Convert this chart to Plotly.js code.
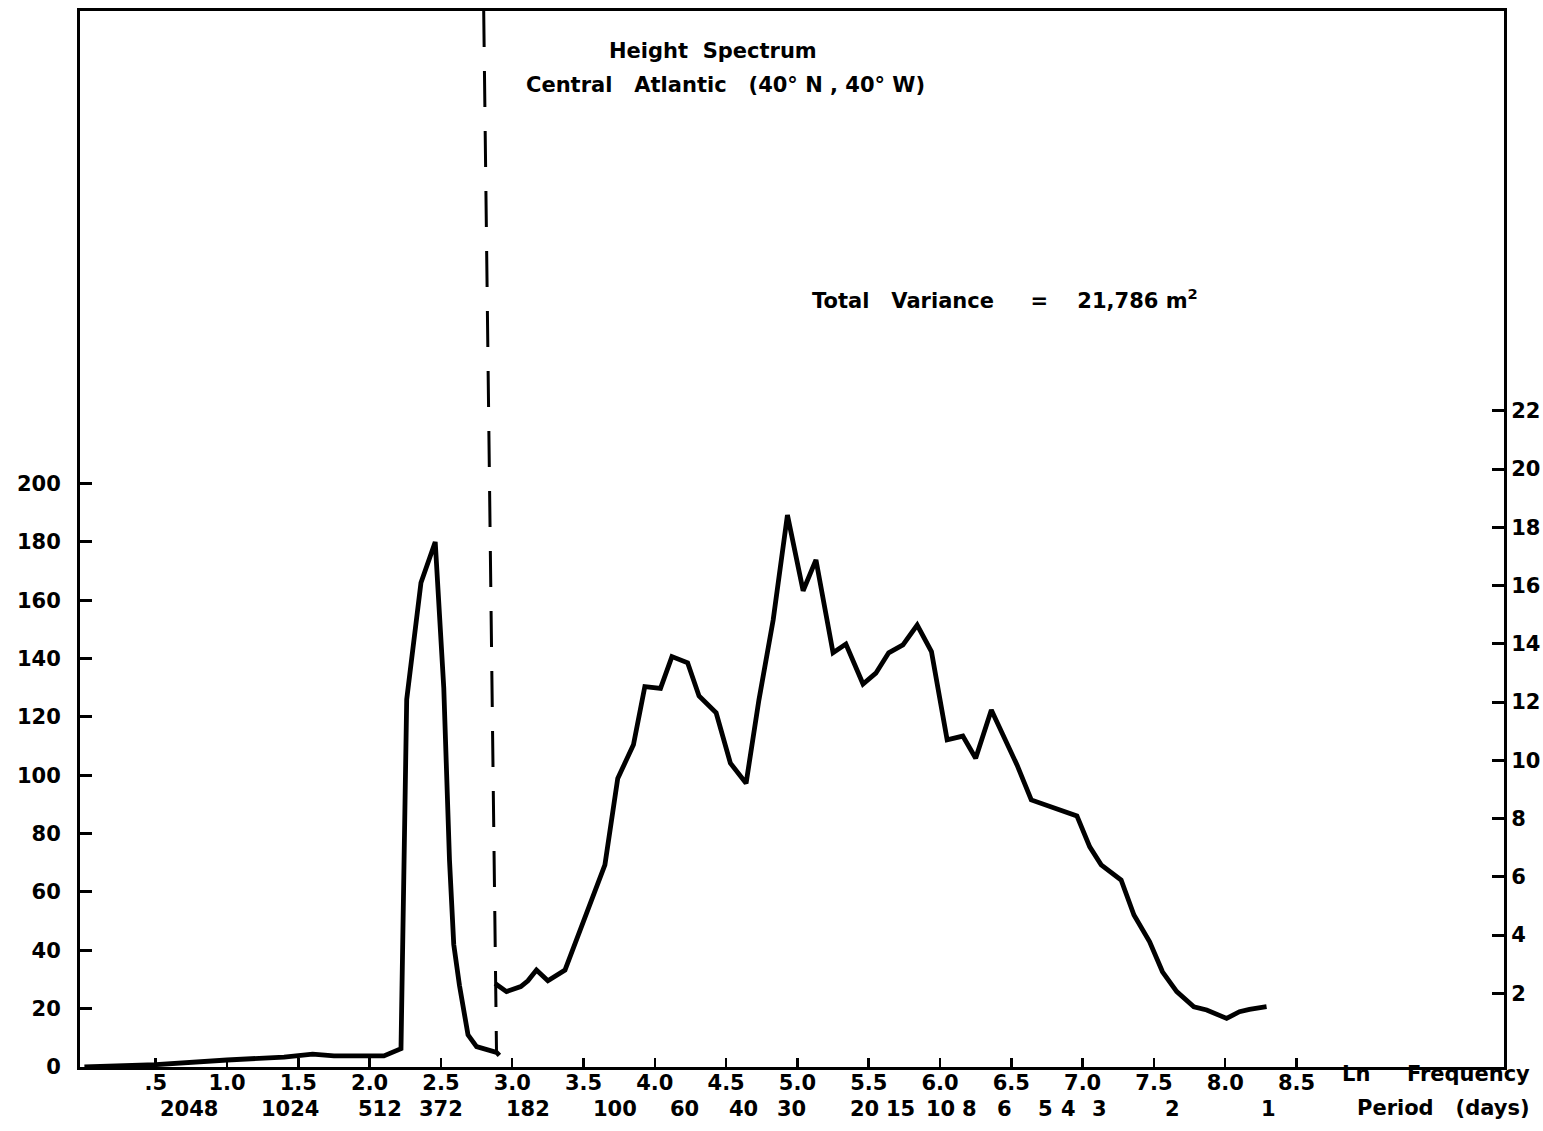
<!DOCTYPE html>
<html>
<head>
<meta charset="utf-8">
<script src="https://cdn.plot.ly/plotly-3.0.1.min.js"></script>
<style>html,body{margin:0;padding:0;background:#fff;}</style>
</head>
<body>
<div id="chart" style="width:1543px;height:1131px;"></div>
<script>
// ---- data ----
// low-frequency part, left axis (m^2 per unit ln frequency)
const lnLow  = [0.0, 0.5, 1.0, 1.4, 1.6, 1.75, 2.1, 2.22, 2.26, 2.36, 2.46, 2.49, 2.52, 2.56, 2.59, 2.63, 2.69, 2.75, 2.89, 2.91];
const varLow = [0, 0.8, 2.4, 3.4, 4.4, 3.8, 3.8, 6.3, 126, 166, 180, 154, 130, 71, 42, 28, 11, 7, 5, 4];
// high-frequency part, right axis
const lnHigh  = [2.88, 2.96, 3.06, 3.11, 3.17, 3.25, 3.37, 3.44, 3.57, 3.65, 3.74, 3.85, 3.93, 4.04, 4.12, 4.23, 4.31, 4.43, 4.53, 4.64, 4.73, 4.83, 4.93, 5.04, 5.13, 5.25, 5.34, 5.46, 5.55, 5.64, 5.74, 5.84, 5.94, 6.05, 6.16, 6.25, 6.36, 6.54, 6.64, 6.96, 7.05, 7.13, 7.27, 7.36, 7.47, 7.56, 7.66, 7.78, 7.87, 8.01, 8.10, 8.17, 8.29];
const varHigh = [2.34, 2.06, 2.23, 2.43, 2.80, 2.43, 2.80, 3.72, 5.43, 6.41, 9.38, 10.53, 12.53, 12.47, 13.56, 13.35, 12.21, 11.63, 9.90, 9.21, 12.07, 14.82, 18.42, 15.82, 16.88, 13.69, 13.99, 12.62, 12.99, 13.69, 13.96, 14.64, 13.73, 10.70, 10.83, 10.07, 11.73, 9.84, 8.64, 8.09, 7.03, 6.41, 5.89, 4.69, 3.77, 2.74, 2.06, 1.54, 1.43, 1.14, 1.37, 1.45, 1.54];

// tick labels
const lnTickVals  = [0.5, 1.0, 1.5, 2.0, 2.5, 3.0, 3.5, 4.0, 4.5, 5.0, 5.5, 6.0, 6.5, 7.0, 7.5, 8.0, 8.5];
const lnTickText  = [".5", "1.0", "1.5", "2.0", "2.5", "3.0", "3.5", "4.0", "4.5", "5.0", "5.5", "6.0", "6.5", "7.0", "7.5", "8.0", "8.5"];
const periodLabels = ["2048", "1024", "512", "372", "182", "100", "60", "40", "30", "20", "15", "10", "8", "6", "5", "4", "3", "2", "1"];
const periodLn     = [0.73, 1.44, 2.07, 2.50, 3.11, 3.72, 4.21, 4.62, 4.96, 5.47, 5.72, 6.00, 6.21, 6.45, 6.74, 6.90, 7.12, 7.63, 8.30];
const leftTicks  = [0, 20, 40, 60, 80, 100, 120, 140, 160, 180, 200];
const rightTicks = [2, 4, 6, 8, 10, 12, 14, 16, 18, 20, 22];
const cutoffLn = [2.80, 2.89]; // dashed separator (top, bottom)

// ---- layout geometry ----
const W = 1543, H = 1131;
const mL = 80, mR = 39, mT = 11, mB = 64;
const plotW = W - mL - mR, plotH = H - mT - mB;
const px2x = px => (px - mL) / plotW;
const py2y = py => (H - mB - py) / plotH;

const FONT = "DejaVu Sans";
const black = "#000";
const tf = {family: FONT, size: 21, color: black, weight: "bold"};

const traces = [
  {x: lnLow, y: varLow, xaxis: "x", yaxis: "y", mode: "lines",
   line: {color: black, width: 4.8}, hoverinfo: "skip", showlegend: false},
  {x: lnHigh, y: varHigh, xaxis: "x", yaxis: "y2", mode: "lines",
   line: {color: black, width: 4.8}, hoverinfo: "skip", showlegend: false}
];

const xRange = [-0.031, 9.955];
const nb = "\u00a0";
const sp = n => nb.repeat(n);

const annotations = [
  {text: "Height" + sp(2) + "Spectrum", xref: "paper", yref: "paper",
   x: px2x(713), y: py2y(51), xanchor: "center", yanchor: "middle", showarrow: false, font: tf},
  {text: "Central" + sp(3) + "Atlantic" + sp(3) + "(40°" + nb + "N" + nb + "," + nb + "40°" + nb + "W)", xref: "paper", yref: "paper",
   x: px2x(725), y: py2y(85), xanchor: "center", yanchor: "middle", showarrow: false, font: tf},
  {text: "Total" + sp(3) + "Variance" + sp(5) + "=" + sp(4) + "21,786" + nb + "m<sup>2</sup>", xref: "paper", yref: "paper",
   x: px2x(810), y: py2y(299), xanchor: "left", yanchor: "middle", showarrow: false, font: tf},
  {text: "Ln" + sp(5) + "Frequency", xref: "paper", yref: "paper",
   x: px2x(1532), y: py2y(1074), xanchor: "right", yanchor: "middle", showarrow: false, font: tf},
  {text: "Period" + sp(3) + "(days)", xref: "paper", yref: "paper",
   x: px2x(1532), y: py2y(1108), xanchor: "right", yanchor: "middle", showarrow: false, font: tf}
];
// period scale labels, placed at their ln-frequency positions
periodLabels.forEach((lab, i) => {
  annotations.push({text: lab, xref: "x", yref: "paper", x: periodLn[i], y: py2y(1109),
    xanchor: "center", yanchor: "middle", showarrow: false, font: tf});
});

const layout = {
  width: W, height: H,
  margin: {l: mL, r: mR, t: mT, b: mB, pad: 0},
  paper_bgcolor: "#fff", plot_bgcolor: "#fff",
  font: tf,
  showlegend: false,
  xaxis: {
    range: xRange, showgrid: false, zeroline: false,
    showline: true, linecolor: black, linewidth: 3, mirror: true,
    ticks: "inside", ticklen: 9, tickwidth: 2.5, tickcolor: black,
    tickvals: lnTickVals, ticktext: lnTickText,
    ticklabelstandoff: -5,
    tickfont: tf
  },
  yaxis: {
    range: [0, plotH / 2.917], showgrid: false, zeroline: false,
    showline: true, linecolor: black, linewidth: 3,
    ticks: "inside", ticklen: 12, tickwidth: 3, tickcolor: black,
    tickvals: leftTicks, ticktext: leftTicks.map(String),
    ticklabelstandoff: 12,
    tickfont: tf
  },
  yaxis2: {
    range: [-15.4 / 29.13, (plotH - 15.4) / 29.13],
    overlaying: "y", side: "right", anchor: "x",
    showgrid: false, zeroline: false,
    showline: true, linecolor: black, linewidth: 3,
    ticks: "inside", ticklen: 12, tickwidth: 3, tickcolor: black,
    tickvals: rightTicks, ticktext: rightTicks.map(String),
    ticklabelstandoff: 0,
    tickfont: tf
  },
  shapes: [
    {type: "line", xref: "x", yref: "paper",
     x0: cutoffLn[0], y0: 1, x1: cutoffLn[1], y1: py2y(1054),
     line: {color: black, width: 3, dash: "36px,24px"}}
  ],
  annotations: annotations
};

Plotly.newPlot("chart", traces, layout, {displayModeBar: false, staticPlot: true});
</script>
</body>
</html>
